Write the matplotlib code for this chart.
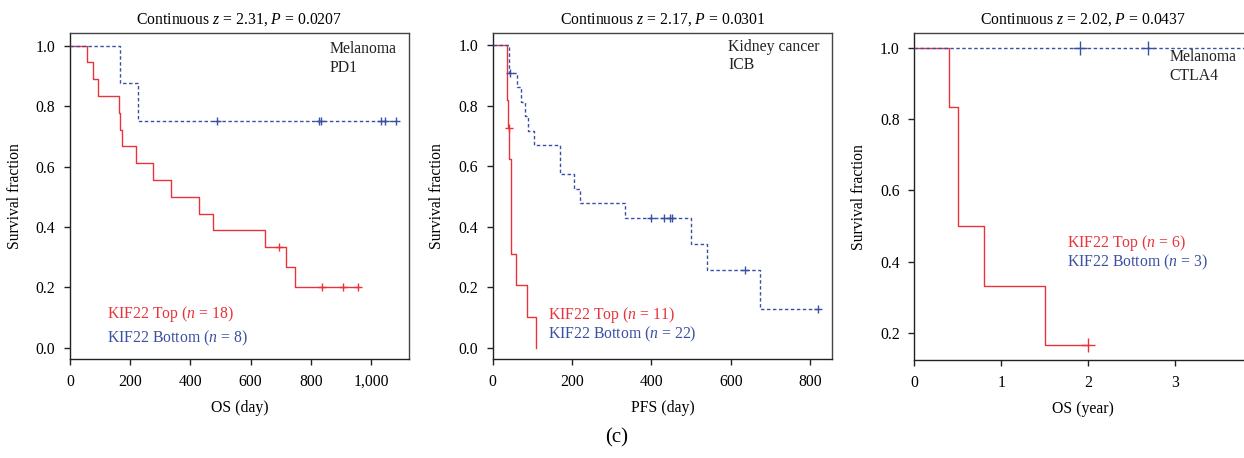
import numpy as np
import matplotlib
matplotlib.use("Agg")
import matplotlib.pyplot as plt

plt.rcParams['font.family'] = 'Liberation Serif'
plt.rcParams['mathtext.fontset'] = 'custom'
plt.rcParams['mathtext.rm'] = 'Liberation Serif'
plt.rcParams['mathtext.it'] = 'Liberation Serif:italic'

RED = '#e8333a'
BLUE = '#3b50a3'
FS = 11.3

# melanoma PD1, OS in days (event 1 = death, 0 = censored)
mel_top_t = [58, 78, 92, 162, 167, 174, 219, 277, 334, 430, 476, 648, 693, 719, 749, 836, 906, 955]
mel_top_e = [1, 1, 1, 1, 1, 1, 1, 1, 1, 1, 1, 1, 0, 1, 1, 0, 0, 0]
mel_bot_t = [166, 227, 487, 828, 835, 1034, 1047, 1083]
mel_bot_e = [1, 1, 0, 0, 0, 0, 0, 0]

# kidney cancer ICB, PFS in days
kid_top_t = [36, 36, 38, 41, 42, 45, 46, 47, 59, 86, 108]
kid_top_e = [1, 1, 1, 0, 1, 1, 1, 1, 1, 1, 1]
kid_bot_t = [41, 41, 44, 60, 71, 82, 88, 105, 170, 170, 206, 220, 333,
             400, 433, 447, 453, 501, 541, 637, 674, 821]
kid_bot_e = [1, 1, 0, 1, 1, 1, 1, 1, 1, 1, 1, 1, 1,
             0, 0, 0, 0, 1, 1, 0, 1, 0]

# melanoma CTLA4, OS in years
ctla_top_t = [0.40, 0.50, 0.50, 0.80, 1.50, 2.00]
ctla_top_e = [1, 1, 1, 1, 1, 0]
ctla_bot_t = [1.90, 2.69, 4.10]
ctla_bot_e = [0, 0, 0]

titles = ['Continuous $z$ = 2.31, $P$ = 0.0207',
          'Continuous $z$ = 2.17, $P$ = 0.0301',
          'Continuous $z$ = 2.02, $P$ = 0.0437']


def km(t, e):
    t = np.asarray(t, float)
    e = np.asarray(e, int)
    n = len(t)
    s = 1.0
    xs, ys, cx, cy = [0.0], [1.0], [], []
    for u in np.unique(t):
        m = t == u
        d = e[m].sum()
        if d:
            s *= 1 - d / n
            xs.append(u)
            ys.append(s)
        nc = int((e[m] == 0).sum())
        cx += [u] * nc
        cy += [s] * nc
        n -= m.sum()
    if xs[-1] < t.max():
        xs.append(t.max())
        ys.append(s)
    return xs, ys, cx, cy


def draw(ax, t, e, color, dashed, ms):
    xs, ys, cx, cy = km(t, e)
    ls = (0, (2.5, 1.8)) if dashed else '-'
    z = 3 if dashed else 2
    ax.step(xs, ys, where='post', color=color, lw=1.0, ls=ls, zorder=z)
    ax.plot(cx, cy, '+', color=color, ms=ms, mew=1.0, zorder=z, clip_on=True)


W, H = 1244, 458
fig = plt.figure(figsize=(W / 100, H / 100), dpi=100)


def make_ax(left, right, top, bottom):
    return fig.add_axes([left / W, 1 - bottom / H, (right - left) / W, (bottom - top) / H])


ax1 = make_ax(70, 409, 33, 359)
ax2 = make_ax(492.7, 832.3, 33, 359)
ax3 = make_ax(914.3, 1251.7, 33.3, 360)

draw(ax1, mel_top_t, mel_top_e, RED, False, 6)
draw(ax1, mel_bot_t, mel_bot_e, BLUE, True, 6)
draw(ax2, kid_top_t, kid_top_e, RED, False, 6)
draw(ax2, kid_bot_t, kid_bot_e, BLUE, True, 6)
draw(ax3, ctla_top_t, ctla_top_e, RED, False, 9.5)
draw(ax3, ctla_bot_t, ctla_bot_e, BLUE, True, 9.5)

ax1.set_xlim(0, 1126)
ax1.set_ylim(-0.037, 1.042)
ax1.set_xticks([0, 200, 400, 600, 800, 1000])
ax1.set_xticklabels(['0', '200', '400', '600', '800', '1,000'])
ax2.set_xlim(0, 856)
ax2.set_ylim(-0.036, 1.04)
ax2.set_xticks([0, 200, 400, 600, 800])
for a in (ax1, ax2):
    a.set_yticks([0, 0.2, 0.4, 0.6, 0.8, 1.0])
ax3.set_xlim(0, 3.88)
ax3.set_ylim(0.125, 1.04)
ax3.set_xticks([0, 1, 2, 3])
ax3.set_yticks([0.2, 0.4, 0.6, 0.8, 1.0])

xlabels = ['OS (day)', 'PFS (day)', 'OS (year)']
for a, ttl, xl in zip((ax1, ax2, ax3), titles, xlabels):
    a.yaxis.set_major_formatter(matplotlib.ticker.FormatStrFormatter('%.1f'))
    a.tick_params(direction='out', length=4.5, width=1.0, labelsize=FS, pad=6, color='#222222')
    for sp in a.spines.values():
        sp.set_linewidth(1.0)
        sp.set_color('#444444')
    a.spines['left'].set_color('#222222')
    a.spines['bottom'].set_color('#222222')
    a.set_title(ttl, fontsize=FS, pad=7)
    a.set_ylabel('Survival fraction', fontsize=FS)
    a.set_xlabel(xl, fontsize=FS)
    a.yaxis.set_label_coords(-47.3 / 339, 0.5)
    a.xaxis.set_label_coords(0.5, -0.126)

# group labels
ax1.text(0.108, 0.138, 'KIF22 Top ($n$ = 18)', color=RED, fontsize=FS, transform=ax1.transAxes, va='center')
ax1.text(0.108, 0.064, 'KIF22 Bottom ($n$ = 8)', color=BLUE, fontsize=FS, transform=ax1.transAxes, va='center')
ax2.text(0.162, 0.135, 'KIF22 Top ($n$ = 11)', color=RED, fontsize=FS, transform=ax2.transAxes, va='center')
ax2.text(0.162, 0.077, 'KIF22 Bottom ($n$ = 22)', color=BLUE, fontsize=FS, transform=ax2.transAxes, va='center')
ax3.text(0.452, 0.357, 'KIF22 Top ($n$ = 6)', color=RED, fontsize=FS, transform=ax3.transAxes, va='center')
ax3.text(0.452, 0.299, 'KIF22 Bottom ($n$ = 3)', color=BLUE, fontsize=FS, transform=ax3.transAxes, va='center')

# cohort labels
ax1.text(0.765, 0.950, 'Melanoma', fontsize=FS, transform=ax1.transAxes, va='center', color='#222222')
ax1.text(0.765, 0.892, 'PD1', fontsize=FS, transform=ax1.transAxes, va='center', color='#222222')
ax2.text(0.694, 0.958, 'Kidney cancer', fontsize=FS, transform=ax2.transAxes, va='center', color='#222222')
ax2.text(0.694, 0.902, 'ICB', fontsize=FS, transform=ax2.transAxes, va='center', color='#222222')
ax3.text(0.756, 0.927, 'Melanoma', fontsize=FS, transform=ax3.transAxes, va='center', color='#222222')
ax3.text(0.756, 0.869, 'CTLA4', fontsize=FS, transform=ax3.transAxes, va='center', color='#222222')

fig.text(617 / W, 1 - 438 / H, '(c)', fontsize=15, ha='center', va='center')

fig.savefig('out.png', dpi=100)
